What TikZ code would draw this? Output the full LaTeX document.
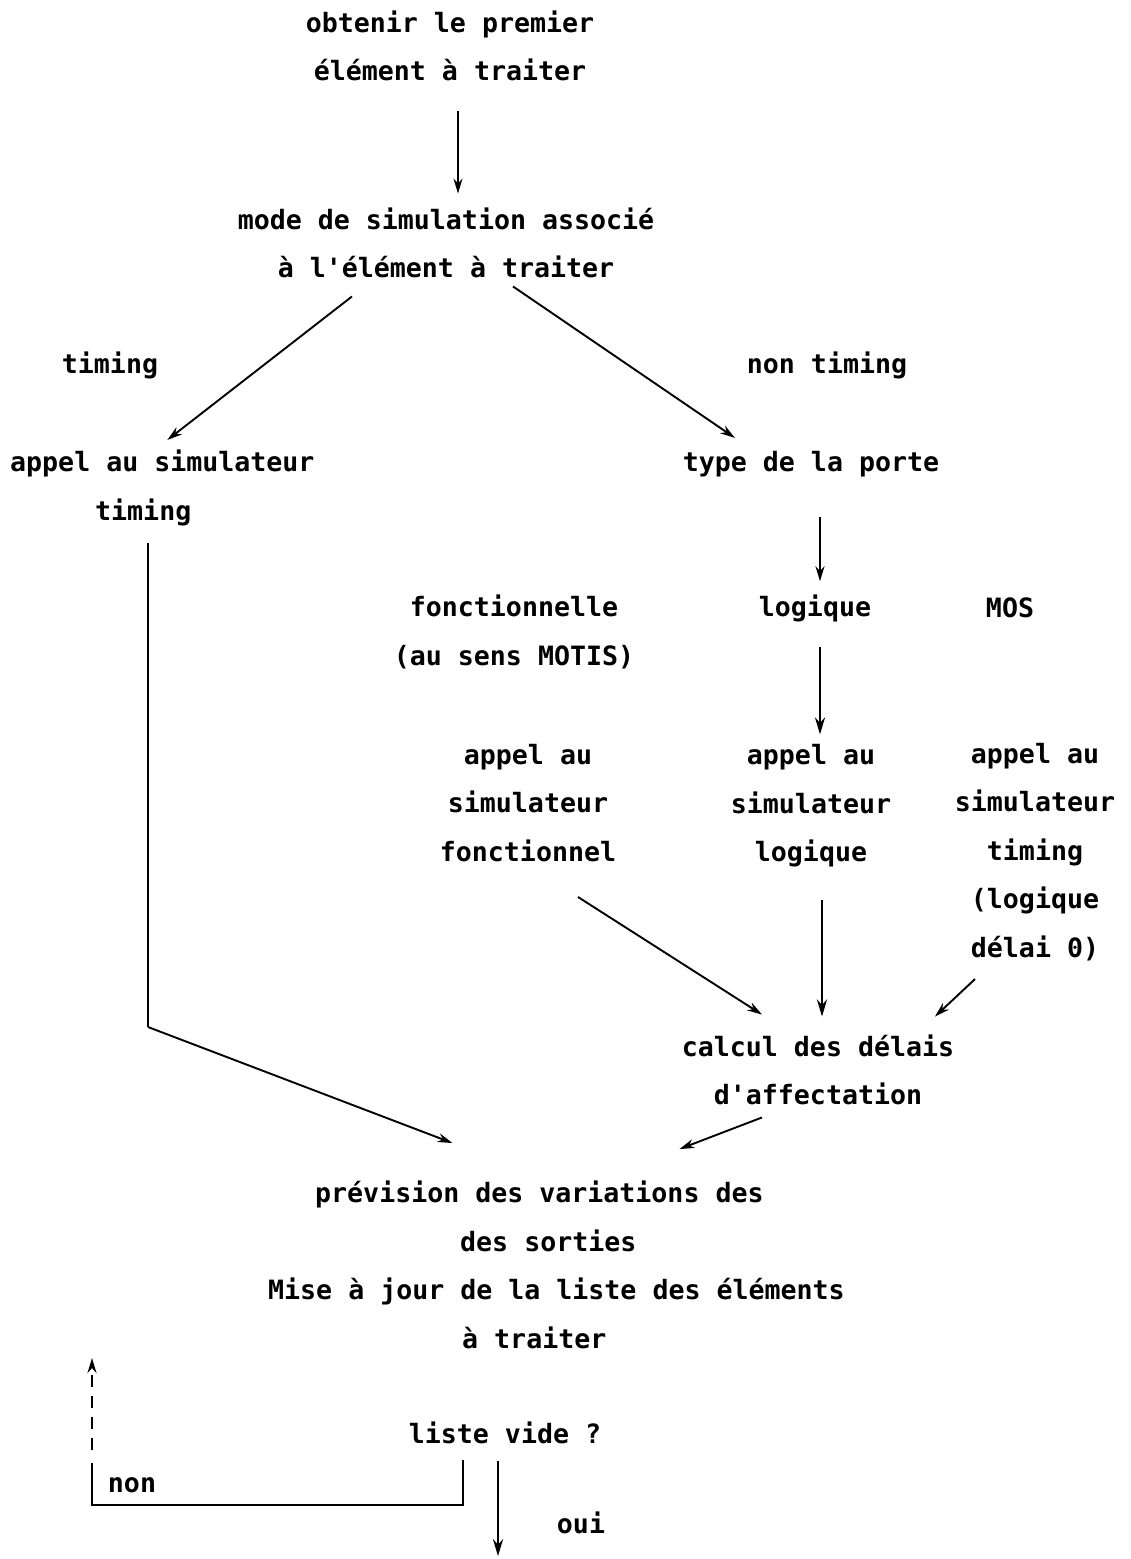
\documentclass[tikz,border=0pt]{standalone}
\usepackage{fontspec}
\setmainfont{DejaVu Sans Mono}
\usetikzlibrary{arrows.meta}
\begin{document}
\begin{tikzpicture}[x=1pt,y=-1pt,
  txt/.style={font=\fontsize{26.6}{48.5}\selectfont\bfseries, align=center, inner sep=0pt},
  txtl/.style={font=\fontsize{26.6}{48.5}\selectfont\bfseries, align=left, inner sep=0pt},
  arr/.style={line width=1.9pt, -{Stealth[length=15pt,width=9pt]}},
  arrthk/.style={line width=2.8pt, -{Stealth[length=17pt,width=10pt]}},
  plain/.style={line width=1.9pt},
  plainthk/.style={line width=2.8pt}]
\useasboundingbox (0,0) rectangle (1131,1559);

\node[txt] (n1) at (450,46) {obtenir le premier\\élément à traiter};
\node[txt] (n2) at (446,243) {mode de simulation associé\\à l\textquotesingle élément à traiter};
\node[txt] (ltim) at (110,365) {timing};
\node[txt] (lnon) at (827,365) {non timing};
\node[txtl, anchor=west] (n3) at (10,488) {appel au simulateur\\\hspace*{85pt}timing};
\node[txt] (type) at (811,464) {type de la porte};
\node[txt] (fonc) at (514,632) {fonctionnelle\\(au sens MOTIS)};
\node[txt] (logi) at (815,608) {logique};
\node[txt] (mos) at (1010,608) {MOS};
\node[txt] (sf) at (528,803) {appel au\\simulateur\\fonctionnel};
\node[txt] (sl) at (811,806) {appel au\\simulateur\\logique};
\node[txt] (st) at (1035,852) {appel au\\simulateur\\timing\\(logique\\délai 0)};
\node[txt] (calc) at (818,1070) {calcul des délais\\d\textquotesingle affectation};
\node[txtl, anchor=west] (prev) at (268,1265) {\hspace*{47pt}prévision des variations des\\\hspace*{192pt}des sorties\\Mise à jour de la liste des éléments\\\hspace*{194pt}à traiter};
\node[txt] (vide) at (505,1433) {liste vide ?};
\node[txt] (non) at (132,1485) {non};
\node[txt] (oui) at (581,1523) {oui};

% connectors
\draw[arr] ([shift={(8,30)}]n1.south) -- ([shift={(12,-14)}]n2.north);
\draw[arr] ([shift={(-94,18)}]n2.south) -- ([shift={(5,-10)}]n3.north);
\draw[arr] ([shift={(67,8)}]n2.south) -- ([shift={(-76,-13)}]type.north);
\draw[arr] ([shift={(9,40)}]type.south) -- ([shift={(5,-13)}]logi.north);
\draw[arrthk] ([shift={(5,25)}]logi.south) -- ([shift={(9,-10)}]sl.north);

\coordinate (bend) at (148,1027);
\draw[plainthk] ([shift={(0,17)}]n3.south -| bend) -- (bend);
\draw[arr] (bend) -- ([shift={(-104,-38)}]prev.north);

\draw[arr] ([shift={(50,35)}]sf.south) -- ([shift={(-56,-20)}]calc.north);
\draw[arrthk] ([shift={(11,32)}]sl.south) -- ([shift={(4,-18)}]calc.north);
\draw[arr] ([shift={(-60,18)}]st.south) -- ([shift={(117,-18)}]calc.north);
\draw[arr] ([shift={(-56,12)}]calc.south) -- ([shift={(123,-32)}]prev.north);

% loop back
\coordinate (lt) at (92,1358);
\coordinate (lb) at (92,1505);
\draw[plain] ([shift={(-42,16)}]vide.south) |- (lb) -- (92,1463);
\draw[line width=1.9pt, dash pattern=on 12pt off 9pt, -{Stealth[length=15pt,width=9pt]}] (92,1450) -- (lt);
\draw[arrthk] ([shift={(-7,17)}]vide.south) -- ++(0,95);
\end{tikzpicture}
\end{document}
